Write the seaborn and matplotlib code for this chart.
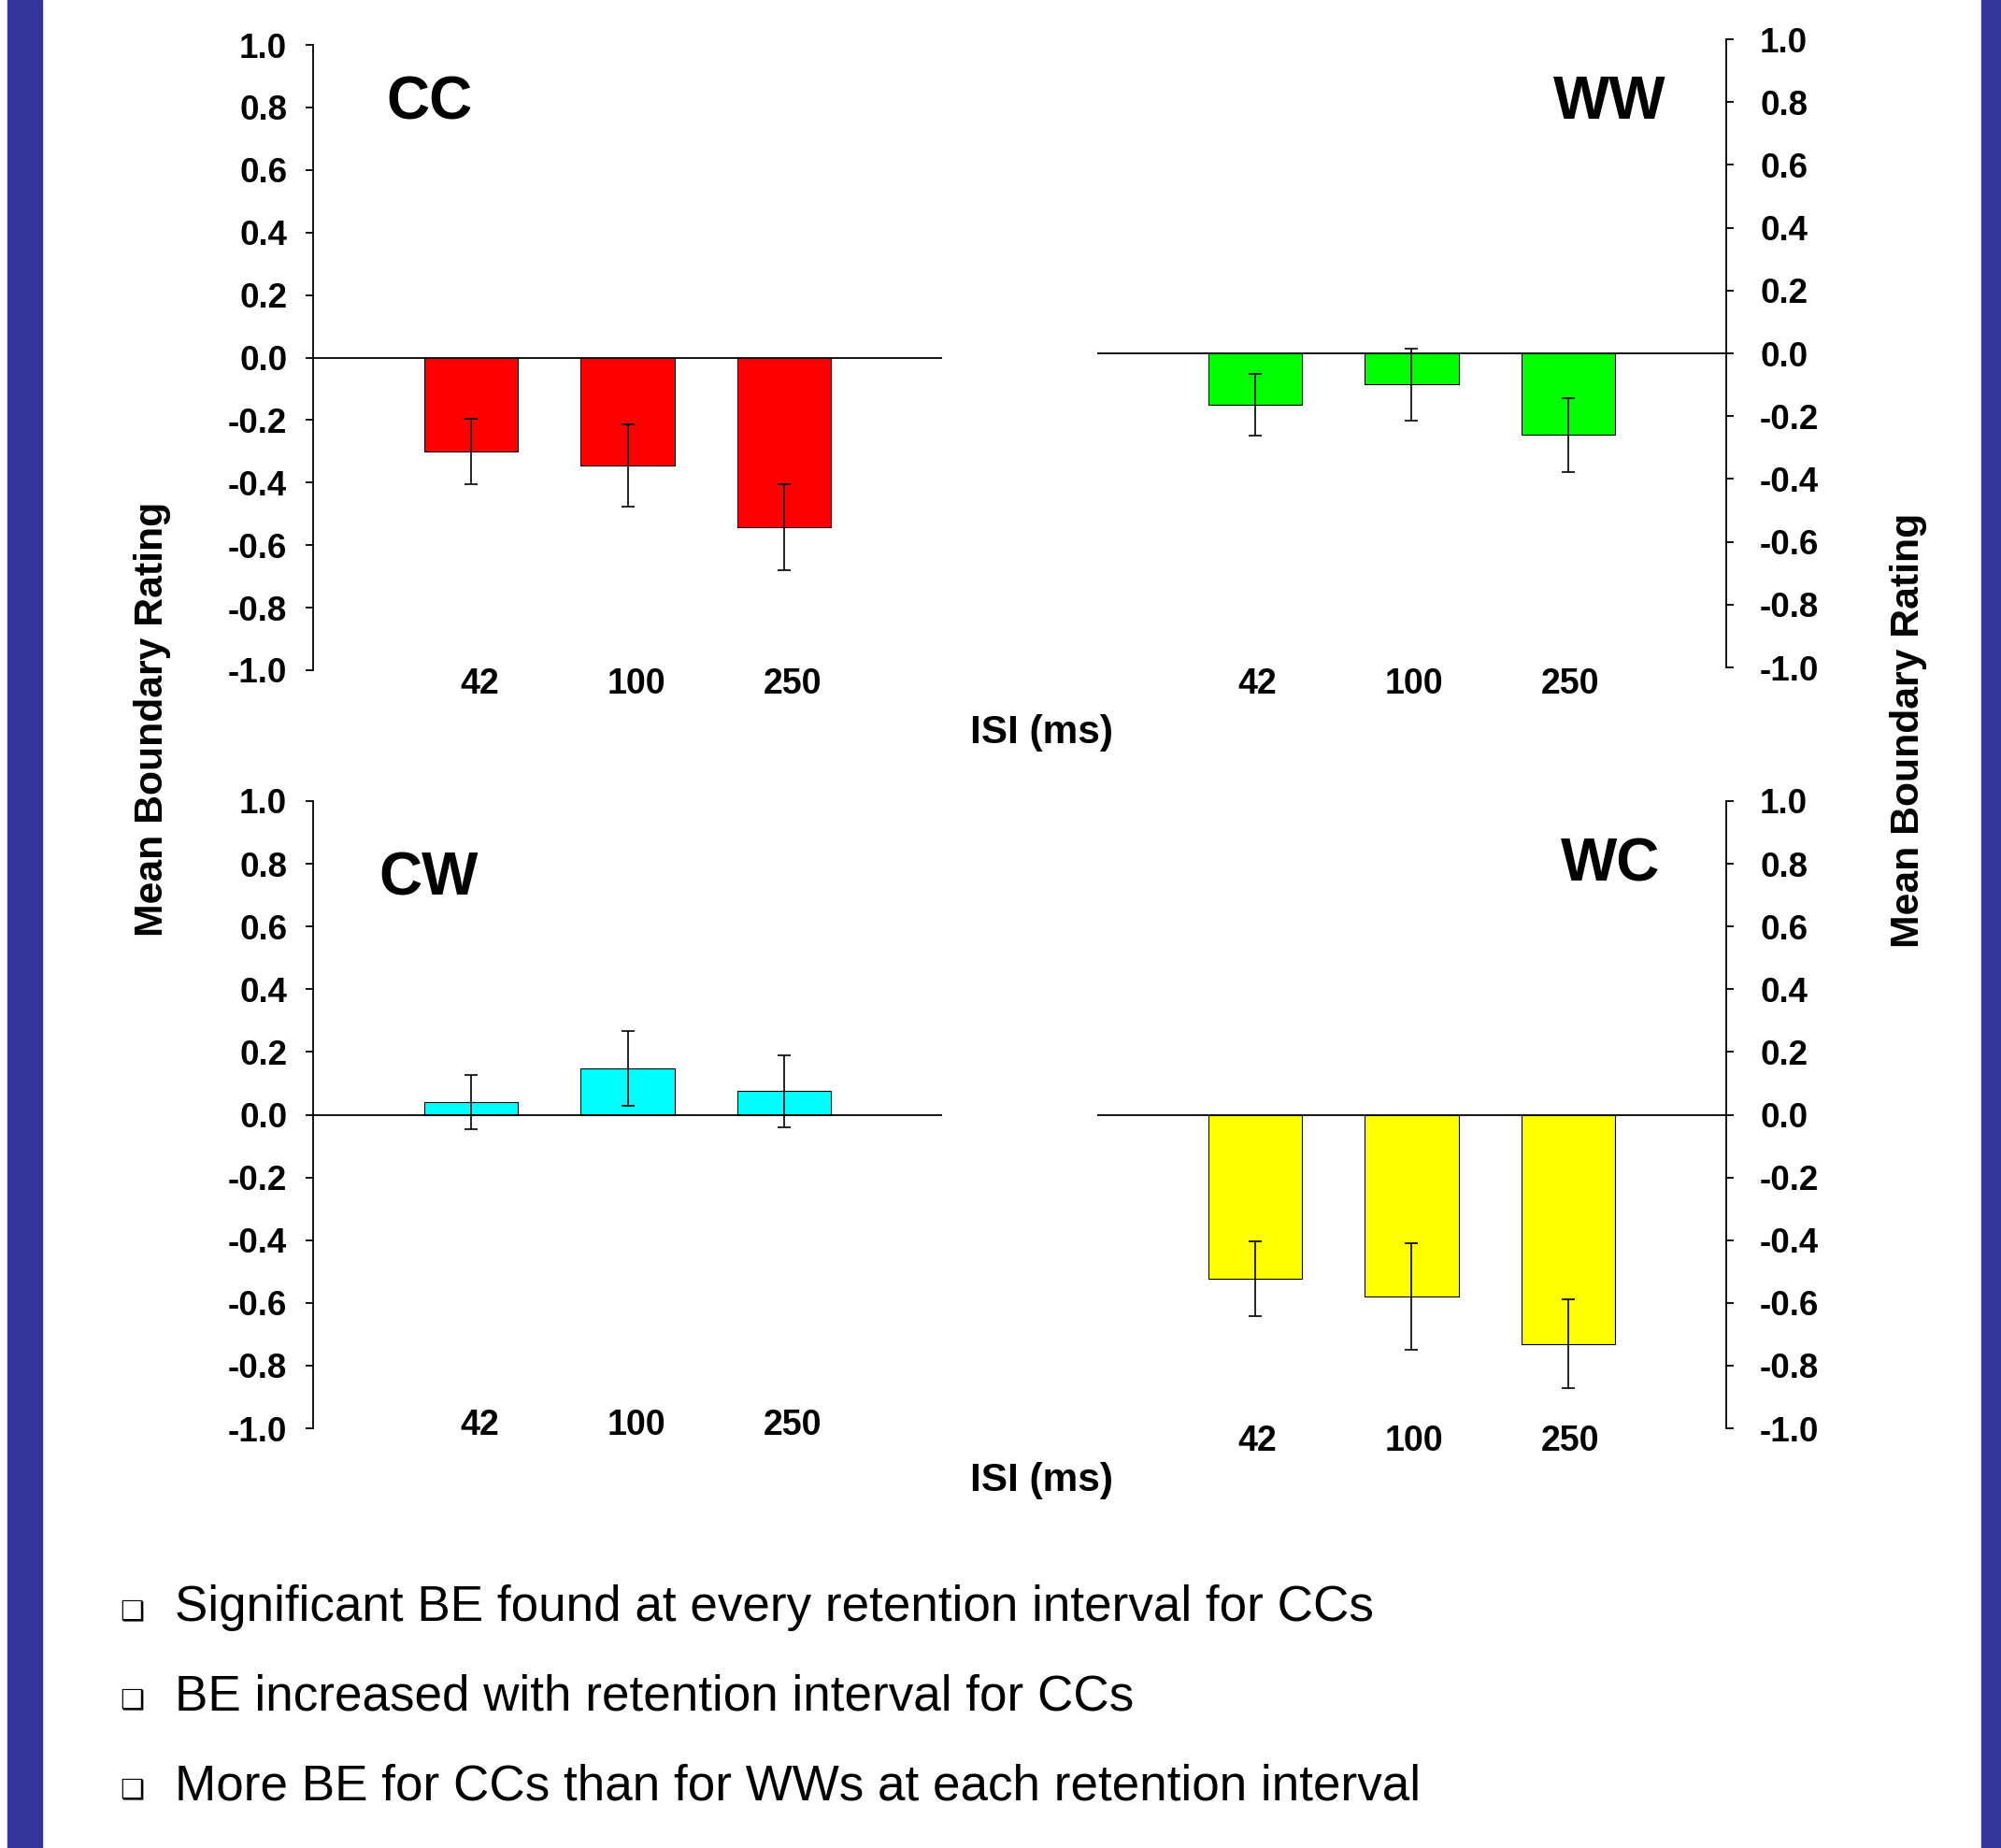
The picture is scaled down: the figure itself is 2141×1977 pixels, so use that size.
import numpy as np
import pandas as pd
import matplotlib.pyplot as plt
from matplotlib.patches import Rectangle
from matplotlib.transforms import ScaledTranslation
import seaborn as sns

sns.set_theme(style='white', rc={'axes.edgecolor': 'black', 'text.color': 'black',
                                 'xtick.color': 'black', 'ytick.color': 'black'})
plt.rcParams['font.family'] = ['Liberation Sans', 'DejaVu Sans']
plt.rcParams['axes.unicode_minus'] = False

# data
isi = ['42', '100', '250']
cc_mean = [-0.300, -0.346, -0.543]
cc_err = [0.105, 0.131, 0.137]
ww_mean = [-0.164, -0.099, -0.260]
ww_err = [0.098, 0.115, 0.117]
cw_mean = [0.041, 0.147, 0.075]
cw_err = [0.086, 0.120, 0.115]
wc_mean = [-0.523, -0.579, -0.731]
wc_err = [0.119, 0.170, 0.141]
yticks = [-1.0, -0.8, -0.6, -0.4, -0.2, 0.0, 0.2, 0.4, 0.6, 0.8, 1.0]
ytick_labels = ['-1.0', '-0.8', '-0.6', '-0.4', '-0.2', '0.0', '0.2', '0.4', '0.6', '0.8', '1.0']
bullets = ['Significant BE found at every retention interval for CCs',
           'BE increased with retention interval for CCs',
           'More BE for CCs than for WWs at each retention interval']

W, H = 2141, 1977
fig = plt.figure(figsize=(W / 100, H / 100), dpi=100)


def box(x0, y0, x1, y1):
    return [x0 / W, 1 - y1 / H, (x1 - x0) / W, (y1 - y0) / H]


panels = [
    ('CC', cc_mean, cc_err, '#ff0000', (335, 48, 1008, 717), 'left', -2.5, (459, 110)),
    ('WW', ww_mean, ww_err, '#00ff00', (1174, 42, 1847, 714), 'right', 0.0, (1722, 110)),
    ('CW', cw_mean, cw_err, '#00ffff', (335, 857, 1008, 1528), 'left', -15.0, (459, 941)),
    ('WC', wc_mean, wc_err, '#ffff00', (1174, 857, 1847, 1528), 'right', -3.0, (1723, 925)),
]

for name, mean, err, col, rect, side, xpad, lab in panels:
    ax = fig.add_axes(box(*rect))
    df = pd.DataFrame({'ISI': isi, 'rating': mean})
    sns.barplot(data=df, x='ISI', y='rating', color=col, saturation=1, width=0.6,
                edgecolor='black', linewidth=0.8, errorbar=None, ax=ax)
    ax.errorbar(range(len(isi)), mean, yerr=err, fmt='none', ecolor='black',
                elinewidth=1.2, capsize=5, capthick=1.2)
    ax.axhline(0, color='black', lw=1.3)
    ax.set_ylim(-1, 1)
    ax.set_xlim(-1.01, 3.01)
    ax.set_xlabel('')
    ax.set_ylabel('')
    ax.set_facecolor('none')
    for s in ['top', 'bottom', 'left', 'right']:
        ax.spines[s].set_visible(s == side)
    ax.spines[side].set_linewidth(1.3)
    ax.set_xticks(range(len(isi)), labels=isi, fontsize=27, fontweight='bold')
    ax.tick_params(axis='x', length=0, pad=xpad)
    # labels sit a little right of the bar centres in the original
    shift = 9 if side == 'left' else 2
    for lbl in ax.get_xticklabels():
        lbl.set_transform(lbl.get_transform() + ScaledTranslation(shift / 100, 0, fig.dpi_scale_trans))
    if side == 'right':
        ax.yaxis.tick_right()
    ax.set_yticks(yticks, labels=ytick_labels, fontsize=26.5, fontweight='bold')
    ax.tick_params(axis='y', direction='out', length=6, width=1.3,
                   pad=14 if side == 'left' else 20,
                   left=(side == 'left'), right=(side == 'right'))
    fig.text(lab[0] / W, 1 - lab[1] / H, name, fontsize=46, fontweight='bold',
             ha='center', va='center')

# axis titles
for y in (784, 1584):
    fig.text(1114 / W, 1 - y / H, 'ISI (ms)', fontsize=30.5, fontweight='bold',
             ha='center', va='center')
fig.text(163 / W, 1 - 769 / H, 'Mean Boundary Rating', fontsize=30.8, fontweight='bold',
         rotation=90, ha='center', va='center')
fig.text(2042 / W, 1 - 781 / H, 'Mean Boundary Rating', fontsize=30.8, fontweight='bold',
         rotation=90, ha='center', va='center')

# bullet list
for i, txt in enumerate(bullets):
    y = 1720 + i * 95.5
    fig.text(141 / W, 1 - (y + 4) / H, '\u2751', fontsize=21, ha='center', va='center',
             family=['DejaVu Sans'])
    fig.text(187 / W, 1 - y / H, txt, fontsize=38.2, ha='left', va='center')

# slide side bars
fig.add_artist(Rectangle((8 / W, 0), 37 / W, 1, transform=fig.transFigure,
                         color='#353599', zorder=0))
fig.add_artist(Rectangle((2120 / W, 0), 21 / W, 1, transform=fig.transFigure,
                         color='#353599', zorder=0))

fig.savefig('out.png', dpi=100, facecolor='white')
